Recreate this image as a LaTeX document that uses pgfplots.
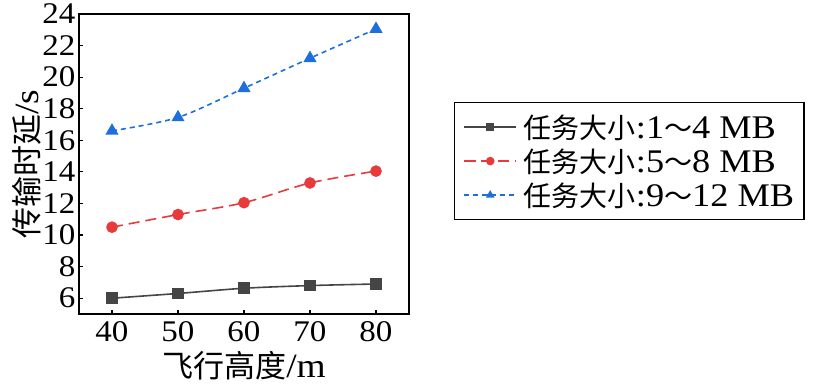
\documentclass[border=0pt]{standalone}
\usepackage{fontspec}
\setmainfont{Liberation Serif}[FakeStretch=1.1]
\newfontfamily\cjk{Noto Sans CJK SC}
\usepackage{pgfplots}
\pgfplotsset{compat=1.18}
\definecolor{cblack}{HTML}{454545}
\definecolor{cred}{HTML}{E83A3A}
\definecolor{cblue}{HTML}{1C6FDC}
\newcommand{\lgtext}[1]{{\cjk\fontsize{28}{30}\selectfont 任务大小}:#1}
\newcommand{\wtl}{{\cjk\fontsize{28}{30}\selectfont ～}}
\begin{document}
\begin{tikzpicture}
\useasboundingbox (-79pt,-74pt) rectangle (742pt,314pt);
\begin{axis}[
  scale only axis,
  width=330pt, height=300pt,
  at={(0,0)}, anchor=south west,
  xmin=35, xmax=85, ymin=5, ymax=24,
  xtick={40,50,60,70,80},
  ytick={6,8,10,12,14,16,18,20,22,24},
  tick align=inside,
  major tick length=4pt,
  xtick pos=bottom, ytick pos=left,
  axis line style={line width=1.6pt},
  tick style={line width=1.2pt, black},
  /pgf/number format/assume math mode=true,
  ticklabel style={font=\fontsize{30}{32}\selectfont},
  xticklabel style={yshift=-4pt},
  xlabel={{\cjk\fontsize{31}{33}\selectfont 飞行高度}/m},
  ylabel={{\cjk\fontsize{31}{33}\selectfont 传输时延}/s},
  label style={font=\fontsize{34}{36}\selectfont},
  xlabel style={yshift=-3pt},
  ylabel style={yshift=-6pt},
  legend cell align=left,
  legend style={at={(1.136,0.707)}, anchor=north west,
    draw=black, line width=1.2pt,
    font=\fontsize{33}{35}\selectfont,
    row sep=7pt, inner xsep=9pt, inner ysep=11pt,
    nodes={inner sep=1pt},
    /tikz/every odd column/.append style={column sep=6pt}},
  legend image code/.code={
    \draw[line width=1.5pt, mark size=3.5pt, mark repeat=2,mark phase=2] plot coordinates {(0pt,0pt) (26pt,0pt) (52pt,0pt)};},
]
\addplot[cblack, line width=1.6pt, smooth, mark=square*, mark size=5pt, mark options={solid, fill=cblack}]
coordinates {(40,6.0) (50,6.3) (60,6.63) (70,6.8) (80,6.9)};
\addlegendentry{\lgtext{1\wtl4 MB}}
\addplot[cred, line width=1.6pt, smooth, dash pattern=on 11pt off 6pt, mark=*, mark size=5pt, mark options={solid, fill=cred}]
coordinates {(40,10.5) (50,11.3) (60,12.05) (70,13.3) (80,14.05)};
\addlegendentry{\lgtext{5\wtl8 MB}}
\addplot[cblue, line width=1.6pt, smooth, dash pattern=on 5pt off 4pt, mark=triangle*, mark size=6pt, mark options={solid, fill=cblue}]
coordinates {(40,16.6) (50,17.45) (60,19.3) (70,21.2) (80,23.05)};
\addlegendentry{\lgtext{9\wtl12 MB}}
\end{axis}
\end{tikzpicture}
\end{document}
